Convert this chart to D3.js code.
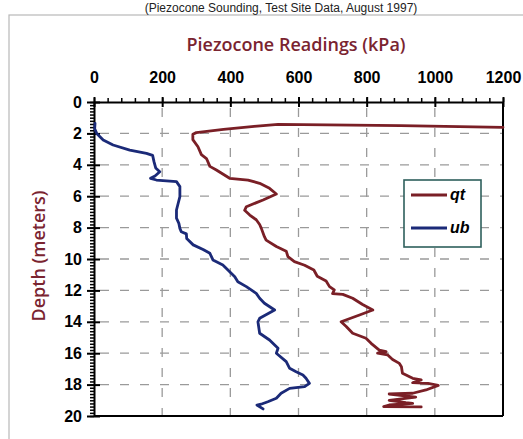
<!DOCTYPE html>
<html>
<head>
<meta charset="utf-8">
<script src="https://cdn.jsdelivr.net/npm/d3@7"></script>
<style>
html,body{margin:0;padding:0;background:#fff;}
svg{display:block;}
</style>
</head>
<body>
<svg id="chart" width="523" height="439"></svg>
<script>
// ---- data (depth in m, reading in kPa) ----
const qtDepth = [1.61,1.5,1.42,1.55,1.75,1.95,2.05,2.4,2.85,3.35,3.6,4.1,4.33,4.86,4.97,5.18,5.5,5.86,6.24,6.67,6.9,7.2,7.5,7.8,8.05,8.58,8.8,9.2,9.5,9.85,10.17,10.4,10.7,11.1,11.4,11.76,11.97,12.2,12.25,12.5,12.9,13.25,13.57,14.0,14.3,14.73,15.05,15.37,15.8,15.9,16.0,16.1,16.4,16.65,16.86,17.28,17.6,17.7,17.88,17.92,18.05,18.34,18.55,18.6,18.7,18.8,19.0,19.15,19.2,19.3,19.4,19.42];
const qtKpa   = [1200,900,540,470,380,300,290,290,305,315,330,340,359,398,452,486,515,535,496,447,442,457,476,486,491,500,505,535,564,569,588,618,645,655,681,691,705,700,730,759,788,818,779,725,740,759,798,813,837,857,832,861,876,896,902,905,935,960,935,980,1010,974,935,866,905,944,866,915,935,866,850,960];
const ubDepth = [1.36,1.7,2.0,2.42,2.74,3.06,3.27,3.4,3.8,4.2,4.44,4.71,4.86,4.97,5.07,5.39,6.03,6.45,6.88,7.4,7.73,8.05,8.26,8.4,8.7,9.1,9.4,9.64,10.06,10.38,10.7,11.13,11.45,11.76,12.19,12.5,12.82,13.25,13.78,14.0,14.73,15.16,15.69,16.0,16.54,16.96,17.18,17.39,17.6,17.92,18.13,18.24,18.55,18.87,19.09,19.25,19.3,19.55];
const ubKpa   = [3,2,8,27,56,105,154,172,176,181,193,179,166,183,242,252,252,247,242,242,249,252,256,271,272,291,320,340,349,378,393,413,422,447,476,486,500,530,486,481,486,515,540,535,564,574,593,613,622,632,618,574,549,535,510,490,478,496];
const xTicks = [0,200,400,600,800,1000,1200];
const yTicks = [0,2,4,6,8,10,12,14,16,18,20];
const seriesNames = ["qt","ub"];
const seriesColors = ["#7a1f26","#1b2a78"];
const chartTitle = "Piezocone Readings (kPa)";
const yTitle = "Depth (meters)";
const topNote = "(Piezocone Sounding, Test Site Data, August 1997)";

const svg = d3.select("#chart");
const x = d3.scaleLinear().domain([0,1200]).range([94,503]);
const y = d3.scaleLinear().domain([0,20]).range([102,416]);

// outer frame and caption
svg.append("rect").attr("x",9).attr("y",15).attr("width",540).attr("height",450)
  .attr("fill","none").attr("stroke","#b8b8b8").attr("stroke-width",1.2);
svg.append("text").attr("x",281).attr("y",12).attr("text-anchor","middle")
  .attr("font-family","Liberation Sans, Arial, sans-serif").attr("font-size",12).attr("fill","#222")
  .text(topNote);

// grid
const grid = svg.append("g").attr("stroke","#9a9a9a").attr("stroke-width",1.3).attr("stroke-dasharray","9,11");
xTicks.filter(v=>v>0 && v<1200).forEach(v=>{
  grid.append("line").attr("x1",x(v)).attr("x2",x(v)).attr("y1",y(0)+6).attr("y2",y(20));
});
yTicks.filter(v=>v>0 && v<20).forEach(v=>{
  grid.append("line").attr("x1",x(0)+6).attr("x2",x(1200)).attr("y1",y(v)).attr("y2",y(v));
});

// frame right/bottom
svg.append("line").attr("x1",x(1200)).attr("x2",x(1200)).attr("y1",y(0)).attr("y2",y(20)).attr("stroke","#000").attr("stroke-width",2);
svg.append("line").attr("x1",x(0)).attr("x2",x(1200)).attr("y1",y(20)).attr("y2",y(20)).attr("stroke","#000").attr("stroke-width",2.2);

// minor ticks
const xMinor = d3.range(0,1201,40);
svg.append("g").attr("transform",`translate(0,${y(0)})`)
  .call(d3.axisTop(x).tickValues(xMinor).tickSize(4).tickFormat(""))
  .call(g=>{g.select(".domain").remove(); g.selectAll("line").attr("stroke","#000").attr("stroke-width",1.5);});
const yMinor = d3.range(0,20.01,0.2);
svg.append("g").attr("transform",`translate(${x(0)},0)`)
  .call(d3.axisLeft(y).tickValues(yMinor).tickSize(4).tickFormat(""))
  .call(g=>{g.select(".domain").remove(); g.selectAll("line").attr("stroke","#000").attr("stroke-width",1.5);});

// major axes
const xAxis = svg.append("g").attr("transform",`translate(0,${y(0)})`)
  .call(d3.axisTop(x).tickValues(xTicks).tickFormat(d3.format("d")).tickSize(5).tickPadding(14).tickSizeOuter(0));
xAxis.select(".domain").attr("stroke","#000").attr("stroke-width",2);
xAxis.selectAll(".tick line").attr("y1",5).attr("y2",-5).attr("stroke","#000").attr("stroke-width",2);
xAxis.selectAll(".tick text").attr("font-family","Liberation Sans, Arial, sans-serif")
  .attr("font-size",16).attr("font-weight","bold").attr("fill","#000");

const yAxis = svg.append("g").attr("transform",`translate(${x(0)},0)`)
  .call(d3.axisLeft(y).tickValues(yTicks).tickFormat(d3.format("d")).tickSize(7).tickPadding(5).tickSizeOuter(0));
yAxis.select(".domain").attr("stroke","#000").attr("stroke-width",2);
yAxis.selectAll(".tick line").attr("x1",6).attr("x2",-7).attr("stroke","#000").attr("stroke-width",2);
yAxis.selectAll(".tick text").attr("font-family","Liberation Sans, Arial, sans-serif")
  .attr("font-size",16).attr("font-weight","bold").attr("fill","#000");

// series
const line = d3.line().x(d=>x(d[1])).y(d=>y(d[0])).curve(d3.curveLinear);
const qtData = qtDepth.map((d,i)=>[d,qtKpa[i]]);
const ubData = ubDepth.map((d,i)=>[d,ubKpa[i]]);
[qtData,ubData].forEach((data,i)=>{
  svg.append("path").datum(data).attr("d",line).attr("fill","none")
    .attr("stroke",seriesColors[i]).attr("stroke-width",2.8)
    .attr("stroke-linejoin","round").attr("stroke-linecap","round");
});

// legend
const lg = svg.append("g");
lg.append("rect").attr("x",404).attr("y",180).attr("width",77).attr("height",67)
  .attr("fill","#fff").attr("stroke","#2e5f5c").attr("stroke-width",1.6);
seriesNames.forEach((n,i)=>{
  const ly = 195 + i*33;
  lg.append("line").attr("x1",411).attr("x2",447).attr("y1",ly).attr("y2",ly)
    .attr("stroke",seriesColors[i]).attr("stroke-width",3);
  lg.append("text").attr("x",450).attr("y",ly+5).attr("font-family","Liberation Sans, Arial, sans-serif")
    .attr("font-size",16).attr("font-weight","bold").attr("font-style","italic").attr("fill","#000").text(n);
});

// titles
svg.append("text").attr("x",296).attr("y",51).attr("text-anchor","middle")
  .attr("font-family","Open Sans, sans-serif").attr("font-weight",600).attr("font-size",18).attr("fill","#7a2430")
  .text(chartTitle);
svg.append("text").attr("transform","translate(45,256) rotate(-90)").attr("text-anchor","middle")
  .attr("font-family","Open Sans, sans-serif").attr("font-weight",600).attr("font-size",18).attr("fill","#7a2430")
  .text(yTitle);
</script>
</body>
</html>
